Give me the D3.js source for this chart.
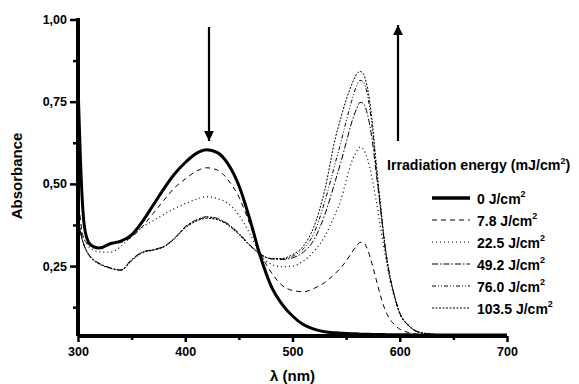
<!DOCTYPE html>
<html><head><meta charset="utf-8">
<script src="https://cdn.jsdelivr.net/npm/d3@7"></script>
<style>body{margin:0;background:#fff}svg{display:block}text{font-family:"Liberation Sans",Arial,sans-serif;font-weight:bold;fill:#000}</style>
</head><body><svg id="c" width="579" height="384"></svg>
<script>
const wavelengths = [300,302,304,306,310,315,320,330,340,350,360,370,380,390,400,410,420,430,440,450,460,470,480,490,500,510,520,530,540,545,550,555,560,563,566,570,574,578,582,586,590,595,600,608,616,630,650,700];
const abs0 = [0.80,0.60,0.45,0.37,0.322,0.308,0.305,0.318,0.326,0.345,0.385,0.435,0.485,0.53,0.565,0.592,0.604,0.595,0.56,0.495,0.395,0.28,0.19,0.135,0.098,0.072,0.058,0.05,0.047,0.046,0.045,0.044,0.044,0.043,0.043,0.043,0.042,0.042,0.042,0.042,0.041,0.041,0.041,0.041,0.04,0.04,0.04,0.04];
const abs78 = [0.46,0.40,0.35,0.33,0.315,0.307,0.305,0.316,0.322,0.338,0.37,0.41,0.45,0.488,0.515,0.538,0.549,0.542,0.512,0.46,0.38,0.29,0.232,0.192,0.176,0.172,0.182,0.2,0.228,0.245,0.265,0.29,0.312,0.322,0.322,0.30,0.258,0.21,0.16,0.12,0.093,0.072,0.058,0.048,0.043,0.041,0.04,0.04];
const abs225 = [0.40,0.37,0.345,0.33,0.31,0.298,0.293,0.292,0.31,0.342,0.368,0.388,0.407,0.425,0.44,0.453,0.461,0.455,0.44,0.405,0.35,0.285,0.256,0.248,0.25,0.265,0.295,0.34,0.41,0.45,0.51,0.565,0.60,0.612,0.605,0.575,0.52,0.45,0.37,0.29,0.22,0.155,0.105,0.07,0.052,0.043,0.04,0.04];
const abs492 = [0.39,0.36,0.33,0.31,0.285,0.268,0.258,0.245,0.238,0.27,0.293,0.30,0.31,0.335,0.37,0.39,0.40,0.395,0.378,0.35,0.315,0.287,0.272,0.27,0.275,0.292,0.33,0.405,0.51,0.565,0.625,0.685,0.73,0.748,0.745,0.71,0.64,0.535,0.425,0.315,0.232,0.16,0.107,0.07,0.051,0.043,0.04,0.04];
const abs760 = [0.39,0.36,0.33,0.31,0.285,0.267,0.257,0.244,0.238,0.268,0.292,0.299,0.309,0.334,0.368,0.388,0.398,0.393,0.376,0.348,0.314,0.286,0.272,0.271,0.28,0.302,0.35,0.445,0.565,0.625,0.69,0.75,0.80,0.815,0.81,0.77,0.68,0.55,0.43,0.315,0.232,0.16,0.107,0.07,0.051,0.043,0.04,0.04];
const abs1035 = [0.39,0.36,0.33,0.31,0.284,0.266,0.256,0.243,0.237,0.266,0.29,0.298,0.308,0.333,0.366,0.386,0.395,0.391,0.374,0.346,0.313,0.286,0.273,0.273,0.285,0.31,0.37,0.48,0.64,0.70,0.755,0.80,0.835,0.842,0.835,0.79,0.70,0.565,0.44,0.32,0.235,0.16,0.108,0.07,0.051,0.043,0.04,0.04];
const seriesNames = ["0 J/cm","7.8 J/cm","22.5 J/cm","49.2 J/cm","76.0 J/cm","103.5 J/cm"];
const seriesValues = [abs0,abs78,abs225,abs492,abs760,abs1035];
const xTicks = [300,400,500,600,700];
const xMinor = [350,450,550,650];
const yTicks = [0.25,0.50,0.75,1.00];
const yMinor = [0.125,0.375,0.625,0.875];
const dashes = [null,"5,4","1,3","6,2,1.5,2","4,2,1,2,1,2","2,1.5"];
const widths = [3,1,1.2,1,1,1];

const svg = d3.select("#c");
const x = d3.scaleLinear().domain([300,700]).range([78,507]);
const y = d3.scaleLinear().domain([0.0373,1.0]).range([336,19.5]);
const fmt = d => d3.format(".2f")(d).replace(".", ",");

// curves
const line = d3.line().x(d=>x(d[0])).y(d=>y(d[1])).curve(d3.curveMonotoneX);
const order = [5,4,3,2,1,0];
order.forEach(i => {
  const pts = wavelengths.map((w,k)=>[w, seriesValues[i][k]]);
  svg.append("path").attr("d", line(pts)).attr("fill","none").attr("stroke","#000")
    .attr("stroke-width", widths[i]).attr("stroke-dasharray", dashes[i]).attr("stroke-linejoin","round");
});

// axes
const xAxis = d3.axisBottom(x).tickValues(xTicks).tickSize(6).tickPadding(5).tickFormat(d3.format("d"));
const gx = svg.append("g").attr("transform","translate(0,336)").call(xAxis);
gx.select(".domain").attr("stroke-width",4).attr("d","M78,0H507");
gx.selectAll(".tick line").attr("stroke-width",2.5);
gx.selectAll("text").attr("font-size",12.5).attr("font-family","Liberation Sans").attr("font-weight","bold");
const gxm = svg.append("g").attr("transform","translate(0,336)").call(d3.axisBottom(x).tickValues(xMinor).tickSize(4).tickFormat(""));
gxm.select(".domain").remove(); gxm.selectAll(".tick line").attr("stroke-width",2.5);

const yAxis = d3.axisLeft(y).tickValues(yTicks).tickSize(8).tickPadding(3).tickFormat(fmt);
const gy = svg.append("g").attr("transform","translate(78,0)").call(yAxis);
gy.select(".domain").attr("stroke-width",4).attr("d","M0,336V18");
gy.selectAll(".tick line").attr("stroke-width",2.5);
gy.selectAll("text").attr("font-size",12.5).attr("font-family","Liberation Sans").attr("font-weight","bold");
const gym = svg.append("g").attr("transform","translate(78,0)").call(d3.axisLeft(y).tickValues(yMinor).tickSize(5).tickFormat(""));
gym.select(".domain").remove(); gym.selectAll(".tick line").attr("stroke-width",2.5);

// axis titles
svg.append("text").attr("x",292.5).attr("y",381).attr("text-anchor","middle").attr("font-size",15).text("λ (nm)");
svg.append("text").attr("transform","translate(22,176) rotate(-90)").attr("text-anchor","middle").attr("font-size",15).text("Absorbance");

// arrows
svg.append("defs").append("marker").attr("id","ah").attr("viewBox","0 0 10 10").attr("refX",10).attr("refY",5)
  .attr("markerWidth",4.5).attr("markerHeight",5).attr("markerUnits","strokeWidth").attr("orient","auto")
  .append("path").attr("d","M0,0L10,5L0,10Z").attr("fill","#000");
svg.append("line").attr("x1",209).attr("y1",27).attr("x2",209).attr("y2",141).attr("stroke","#000").attr("stroke-width",2.2).attr("marker-end","url(#ah)");
svg.append("line").attr("x1",398).attr("y1",141).attr("x2",398).attr("y2",25).attr("stroke","#000").attr("stroke-width",2.2).attr("marker-end","url(#ah)");

// legend
const t = svg.append("text").attr("x",387).attr("y",170).attr("font-size",14.2);
t.append("tspan").text("Irradiation energy (mJ/cm");
t.append("tspan").attr("dy",-6).attr("font-size",9).text("2");
t.append("tspan").attr("dy",6).text(")");
seriesNames.forEach((n,i) => {
  const yy = 198 + i*22;
  svg.append("line").attr("x1",432).attr("x2",470).attr("y1",yy).attr("y2",yy).attr("stroke","#000")
    .attr("stroke-width", i===0?3.5:1.2).attr("stroke-dasharray", dashes[i]);
  const tt = svg.append("text").attr("x",477).attr("y",yy+5.5).attr("font-size",14);
  tt.append("tspan").text(n);
  tt.append("tspan").attr("dy",-7).attr("font-size",9).text("2");
});
</script></body></html>
